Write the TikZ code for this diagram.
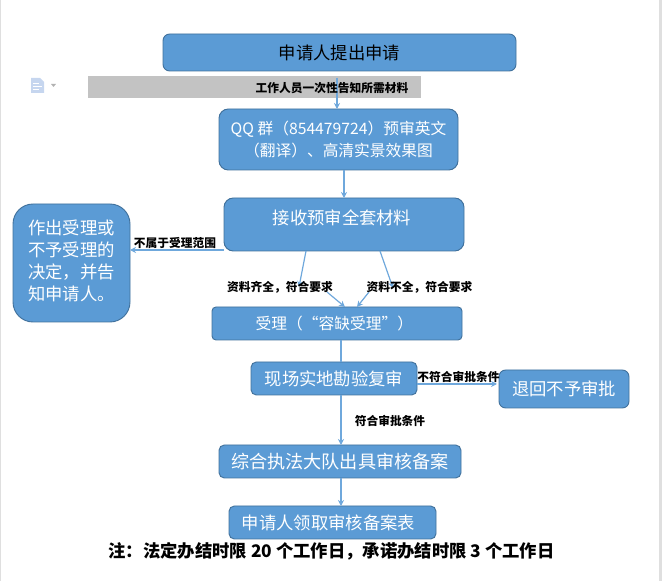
\documentclass[tikz,border=0pt]{standalone}
\usepackage{fontspec}
\setmainfont{Noto Sans CJK SC}
\definecolor{boxblue}{HTML}{5B9BD5}
\definecolor{boxedge}{HTML}{41719C}
\definecolor{linkblue}{HTML}{6FA8DC}
\definecolor{bandgrey}{HTML}{C3C3C3}
\definecolor{iconblue}{HTML}{C6D6EF}
\usetikzlibrary{arrows.meta}
\tikzset{
  box/.style={draw=boxedge,fill=boxblue,line width=.7pt,rounded corners=5pt,text=white,
    align=center,inner sep=0pt,font=\fontsize{13}{16.5}\selectfont},
  note/.style={inner sep=0pt,text=black,font=\fontsize{8.8}{10}\selectfont\bfseries},
  link/.style={draw=linkblue,line width=.9pt,-{Stealth[length=4.5pt,width=4.5pt]}},
  plain/.style={draw=linkblue,line width=.9pt}
}
\begin{document}
\begin{tikzpicture}[x=.75pt,y=-.75pt]
  \useasboundingbox (0,0) rectangle (662,581);
  % page edges and toolbar icon
  \fill[gray!25] (0,0) rectangle (1,581);
  \fill[gray!25] (659,0) rectangle (662,581);
  \fill[bandgrey] (88,76) rectangle (421,98);
  \fill[iconblue] (31,78) -- (40,78) -- (44,82) -- (44,93) -- (31,93) -- cycle;
  \draw[white,line width=.6pt] (33,83) -- (39,83) (33,86) -- (42,86) (33,89) -- (39,89);
  \fill[gray!60] (51,84) -- (56,84) -- (53.5,87) -- cycle;

  % boxes
  \node[box,minimum width=264.75pt,minimum height=27.75pt,text=black] (apply) at (339.5,52.5) {申请人提出申请};
  \node[box,minimum width=179.25pt,minimum height=45.75pt,rounded corners=7pt,font=\fontsize{11.8}{16.5}\selectfont] (prereview) at (338.5,139.5)
    {QQ 群（854479724）预审英文\\（翻译）、高清实景效果图};
  \node[box,minimum width=180pt,minimum height=39.75pt,rounded corners=7pt] (receive) at (344,224.5)
    {\raisebox{11pt}{接收预审全套材料}\hspace*{3pt}};
  \node[box,minimum width=87.75pt,minimum height=88.5pt,rounded corners=15pt] (refuse) at (71.5,263)
    {\raisebox{12pt}{\begin{tabular}{@{}c@{}}作出受理或\\不予受理的\\决定，并告\\知申请人。\end{tabular}}};
  \node[box,minimum width=187.5pt,minimum height=24.75pt,rounded corners=3pt,font=\fontsize{11.8}{16.5}\selectfont] (accept) at (337,323.5) {受理（“容缺受理”）\hspace*{4pt}};
  \node[box,minimum width=124.5pt,minimum height=24.75pt,rounded corners=4pt] (survey) at (334,378.5) {现场实地勘验复审};
  \node[box,minimum width=97.5pt,minimum height=28.5pt,rounded corners=5pt] (sendback) at (564,389) {退回不予审批};
  \node[box,minimum width=181.5pt,minimum height=24.75pt,rounded corners=4pt,font=\fontsize{13.6}{16.5}\selectfont] (issue) at (340,461.5) {综合执法大队出具审核备案};
  \node[box,minimum width=155.25pt,minimum height=24.75pt,rounded corners=4pt] (collect) at (332.5,522.5) {申请人领取审核备案表\hspace*{6pt}};

  % free ends of the broken connectors
  \coordinate (bandtop) at (337,78);
  \coordinate (prein) at (337,109);
  \coordinate (preout) at (344,170);
  \coordinate (recin) at (344,198);
  \coordinate (recleft) at (224,250);
  \coordinate (refright) at (130,250);
  \coordinate (okfrom) at (306,251);
  \coordinate (okto) at (299,287);
  \coordinate (badfrom) at (380,251);
  \coordinate (badto) at (393,288);
  \coordinate (okrest) at (327,292);
  \coordinate (badrest) at (369,292);
  \coordinate (okin) at (345,307);
  \coordinate (badin) at (357,307);
  \coordinate (accout) at (341,340);
  \coordinate (surin) at (341,362);
  \coordinate (surout) at (341,395);
  \coordinate (issin) at (341,445);
  \coordinate (issout) at (341,478);
  \coordinate (colin) at (341,506);
  \coordinate (surright) at (417,384);
  \coordinate (senleft) at (497,384);

  % connectors
  \draw[link] (bandtop) -- (prein);
  \draw[link] (preout) -- (recin);
  \draw[link] (recleft) -- (refright);
  \draw[link] (okfrom) -- (okto);
  \draw[link] (badfrom) -- (badto);
  \draw[link] (okrest) -- (okin);
  \draw[link] (badrest) -- (badin);
  \draw[plain] (accout) -- (surin);
  \draw[link] (surout) -- (issin);
  \draw[link] (issout) -- (colin);
  \draw[link] (surright) -- (senleft);

  % labels
  \node[note] (told) at (332,88.5) {工作人员一次性告知所需材料};
  \node[note] (outscope) at (175,243.5) {不属于受理范围};
  \node[note] (complete) at (280,287) {资料齐全，符合要求};
  \node[note] (missing) at (419.5,287) {资料不全，符合要求};
  \node[note] (notmet) at (458.5,377) {不符合审批条件};
  \node[note] (met) at (390,421) {符合审批条件};
  \node[note,font=\fontsize{13}{15}\selectfont\bfseries] (limit) at (331.5,551.5) {注：法定办结时限 20 个工作日，承诺办结时限 3 个工作日};
\end{tikzpicture}
\end{document}
